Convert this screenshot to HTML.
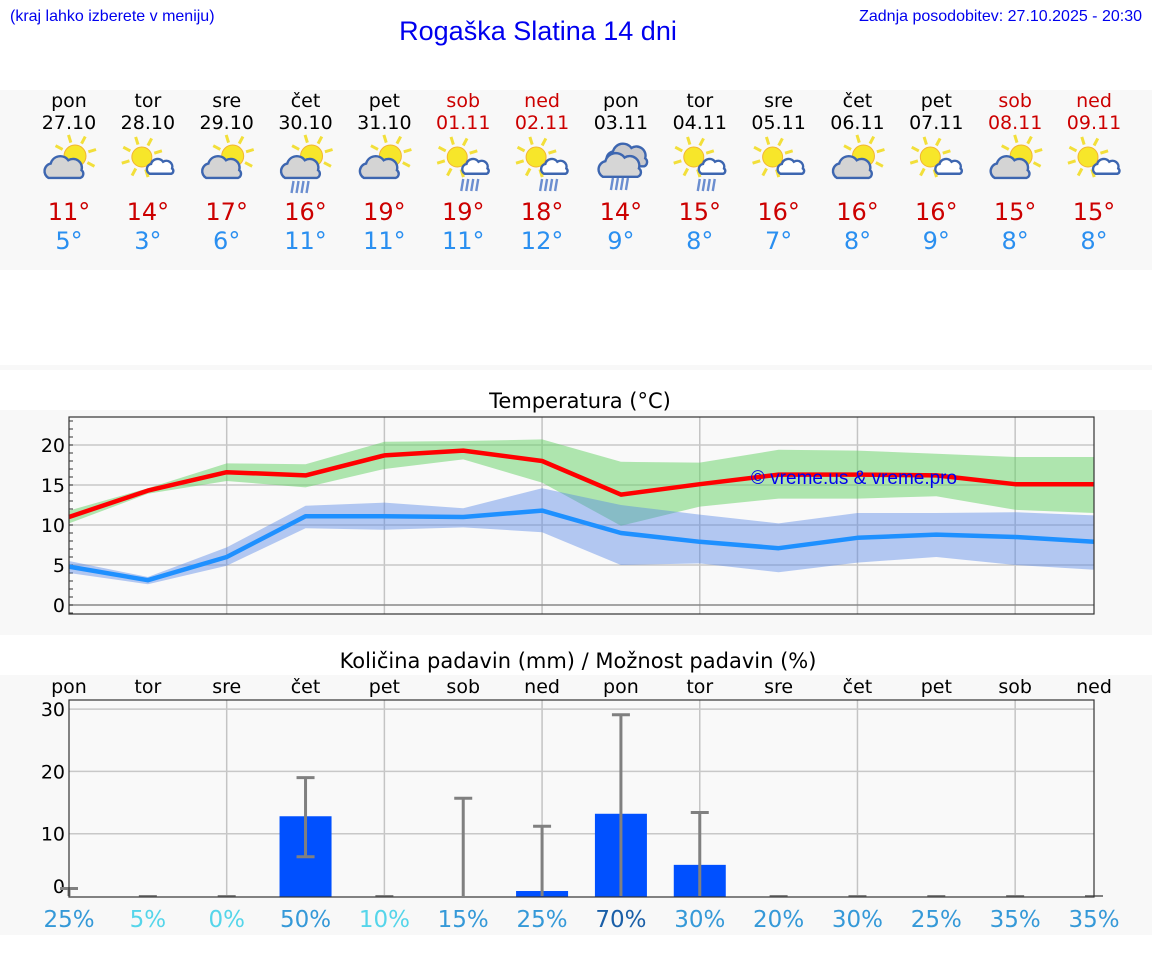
<!DOCTYPE html>
<html><head><meta charset="utf-8">
<style>
html,body{margin:0;padding:0;background:#fff;}
svg{display:block;font-family:"DejaVu Sans","Liberation Sans",sans-serif;}
</style></head>
<body>
<svg id="root" width="1152" height="975" viewBox="0 0 1152 975" xmlns="http://www.w3.org/2000/svg">
<rect x="0" y="90" width="1152" height="180" fill="#f8f8f8"/>
<rect x="0" y="365" width="1152" height="5" fill="#f8f8f8"/>
<rect x="0" y="410" width="1152" height="225" fill="#f8f8f8"/>
<rect x="0" y="675" width="1152" height="260" fill="#f8f8f8"/>
<text x="10" y="21" font-family="Liberation Sans, sans-serif" font-size="16" fill="#0000ee">(kraj lahko izberete v meniju)</text>
<text x="1142" y="21" text-anchor="end" font-family="Liberation Sans, sans-serif" font-size="16" fill="#0000ee">Zadnja posodobitev: 27.10.2025 - 20:30</text>
<text x="538" y="40" text-anchor="middle" font-family="Liberation Sans, sans-serif" font-size="27" fill="#0000ee">Rogaška Slatina 14 dni</text>
<g id="header"></g>
<text x="580" y="408" text-anchor="middle" font-size="21" fill="#000">Temperatura (°C)</text>
<g id="temp"></g>
<text x="578" y="668" text-anchor="middle" font-size="21" fill="#000">Količina padavin (mm) / Možnost padavin (%)</text>
<g id="prec"></g>
</svg>
<script>
const days = ["pon","tor","sre","čet","pet","sob","ned","pon","tor","sre","čet","pet","sob","ned"];
const dates = ["27.10","28.10","29.10","30.10","31.10","01.11","02.11","03.11","04.11","05.11","06.11","07.11","08.11","09.11"];
const weekend = [0,0,0,0,0,1,1,0,0,0,0,0,1,1];
const iconTypes = [0,1,0,3,0,5,5,7,5,1,0,1,0,1];
const maxTemps = [11,14,17,16,19,19,18,14,15,16,16,16,15,15];
const minTemps = [5,3,6,11,11,11,12,9,8,7,8,9,8,8];
const maxLine = [11.0,14.3,16.6,16.2,18.7,19.3,18.0,13.8,15.1,16.3,16.3,16.2,15.1,15.1];
const maxHi = [11.8,14.6,17.7,17.6,20.4,20.5,20.7,17.9,17.8,19.4,19.3,18.9,18.5,18.5];
const maxLo = [10.2,13.9,15.5,14.7,17.0,18.2,15.3,9.9,12.3,13.3,13.3,13.6,11.9,11.5];
const minLine = [4.8,3.1,6.0,11.1,11.1,11.0,11.8,9.0,7.9,7.1,8.4,8.8,8.5,7.9];
const minHi = [5.5,3.5,7.2,12.4,12.8,12.1,14.6,12.5,11.3,10.2,11.5,11.5,11.6,11.2];
const minLo = [4.0,2.6,4.9,9.6,9.4,9.7,9.1,5.0,5.2,4.1,5.3,6.0,5.0,4.4];
const tempTicks = [0,5,10,15,20];
const precip = [0,0,0,12.8,0,0,0.8,13.2,5.0,0,0,0,0,0];
const precipMin = [0,0,0,6.3,0,0,0,0,0,0,0,0,0,0];
const precipMax = [1.2,0,0,19.0,0,15.7,11.2,29.1,13.4,0,0,0,0,0];
const chance = [25,5,0,50,10,15,25,70,30,20,30,25,35,35];
const precipTicks = [0,10,20,30];

const NS="http://www.w3.org/2000/svg";
function mk(parent,tag,attrs,txt){const e=document.createElementNS(NS,tag);for(const k in attrs)e.setAttribute(k,attrs[k]);if(txt!==undefined)e.textContent=txt;parent.appendChild(e);return e;}
const X0=69,X1=1094;
function xd(i){return X0+i*(X1-X0)/13;}

const H=document.getElementById('header');
function sun(g,cx,cy,r){
  for(let a=0;a<8;a++){const an=a*Math.PI/4-0.3;
    mk(g,'line',{x1:cx+Math.cos(an)*(r+3),y1:cy+Math.sin(an)*(r+3),x2:cx+Math.cos(an)*(r+11),y2:cy+Math.sin(an)*(r+11),stroke:'#f2df3a','stroke-width':3});}
  mk(g,'circle',{cx:cx,cy:cy,r:r,fill:'#f7e62a',stroke:'#f2b530','stroke-width':1});
}
function cloud(g,cx,cy,s,fill){
  const p=`M${cx-15*s},${cy+9*s} a${7*s},${7*s} 0 0 1 ${2*s},${-13*s} a${9*s},${9*s} 0 0 1 ${16*s},${-3*s} a${8*s},${8*s} 0 0 1 ${12*s},${9*s} a${4*s},${4*s} 0 0 1 ${-1*s},${7*s} Z`;
  mk(g,'path',{d:p,fill:fill,stroke:'#3d66b0','stroke-width':2.4});
}
function rain(g,cx,cy){for(let k=0;k<4;k++)mk(g,'line',{x1:cx-8+k*5,y1:cy,x2:cx-10+k*5,y2:cy+12,stroke:'#6b8ed0','stroke-width':2.4});}
for(let i=0;i<14;i++){
  const x=xd(i);
  const col=weekend[i]?'#cc0000':'#000';
  const t1=mk(H,'text',{x:x,y:107,'text-anchor':'middle','font-size':19,fill:col},days[i]);
  
  
  const t2=mk(H,'text',{x:x,y:129,'text-anchor':'middle','font-size':19,fill:col},dates[i]);
  
  
  const g=mk(H,'g',{});
  
  
  const t=iconTypes[i];
  if(t===7){cloud(g,x+7,156,1.15,'#c9c9cc');cloud(g,x,166,1.2,'#d6d6d6');rain(g,x,178);}
  else if(t===1||t===5){sun(g,x-6,157,10);cloud(g,x+13,167,0.75,'#fff');if(t===5)rain(g,x+8,179);}
  else {sun(g,x+6,156,11);cloud(g,x-4,168,1.1,'#d4d4d4');if(t===3)rain(g,x-4,181);}
  const hi=mk(H,'text',{x:x,y:220,'text-anchor':'middle','font-size':24,fill:'#cc0000'},maxTemps[i]+'°');
  
  
  const lo=mk(H,'text',{x:x,y:249,'text-anchor':'middle','font-size':24,fill:'#2a8ff0'},minTemps[i]+'°');
  
  
}

const T=document.getElementById('temp');
const TY0=417,TY1=614;
function yt(v){return 605-8*v;}
mk(T,'rect',{x:X0,y:TY0,width:X1-X0,height:TY1-TY0,fill:'#f9f9f9'});
for(let i=2;i<13;i+=2){const l=mk(T,'line',{x1:xd(i),x2:xd(i),y1:TY0,y2:TY1,stroke:'#c4c4c4','stroke-width':1.5});}
tempTicks.forEach(v=>{
  const l=mk(T,'line',{x1:X0,x2:X1,y1:yt(v),y2:yt(v),stroke:v===0?'#888':'#c8c8c8','stroke-width':1.5});
  
  
  const tx=mk(T,'text',{x:X0-4,y:yt(v)+7,'text-anchor':'end','font-size':19,fill:'#000'},String(v));
  
  
});
for(let v=-1;v<=23;v++){mk(T,'line',{x1:X0,x2:X0+4,y1:yt(v),y2:yt(v),stroke:'#333','stroke-width':1});}
function band(hi,lo,fill,name){
  let d='';hi.forEach((v,i)=>d+=(i?'L':'M')+xd(i)+','+yt(v));
  for(let i=lo.length-1;i>=0;i--)d+='L'+xd(i)+','+yt(lo[i]);
  const p=mk(T,'path',{d:d+'Z',fill:fill});
  
  
}
function line(vals,col,name){
  const p=mk(T,'polyline',{points:vals.map((v,i)=>xd(i)+','+yt(v)).join(' '),fill:'none',stroke:col,'stroke-width':4.5,'stroke-linejoin':'round'});
  
  
}
band(maxHi,maxLo,'rgba(100,210,100,0.5)','max-temp-range');
band(minHi,minLo,'rgba(80,130,230,0.42)','min-temp-range');
line(minLine,'#1e90ff','min-temp-line');
line(maxLine,'#ff0000','max-temp-line');
mk(T,'rect',{x:X0,y:TY0,width:X1-X0,height:TY1-TY0,fill:'none',stroke:'#333','stroke-width':1.2});
const wm=mk(T,'text',{x:854,y:484,'text-anchor':'middle','font-family':'Liberation Sans, sans-serif','font-size':19,fill:'#0000ee'},'© vreme.us & vreme.pro');



const P=document.getElementById('prec');
const PY0=700,PY1=897;
function yp(v){return 896-6.23*v;}
mk(P,'rect',{x:X0,y:PY0,width:X1-X0,height:PY1-PY0,fill:'#f9f9f9'});
for(let i=2;i<13;i+=2){const l=mk(P,'line',{x1:xd(i),x2:xd(i),y1:PY0,y2:PY1,stroke:'#c4c4c4','stroke-width':1.5});}
precipTicks.forEach(v=>{
  if(v>0){const l=mk(P,'line',{x1:X0,x2:X1,y1:yp(v),y2:yp(v),stroke:'#c8c8c8','stroke-width':1.5});}
  const tx=mk(P,'text',{x:X0-4,y:(v===0?893:yp(v)+7),'text-anchor':'end','font-size':19,fill:'#000'},String(v));
  
  
});
for(let i=0;i<14;i++){
  const x=xd(i);
  const dl=mk(P,'text',{x:x,y:693,'text-anchor':'middle','font-size':19,fill:'#000'},days[i]);
  
  
  if(precip[i]>0){
    const b=mk(P,'rect',{x:x-26,y:yp(precip[i]),width:52,height:yp(0)-yp(precip[i])+1,fill:'#0050ff'});
    
    
  }
  const eg=mk(P,'g',{stroke:'#808080','stroke-width':3});
  
  
  const top=yp(precipMax[i]),bot=yp(precipMin[i]);
  if(precipMax[i]>0){
    mk(eg,'line',{x1:x,x2:x,y1:top,y2:bot});
    mk(eg,'line',{x1:x-9,x2:x+9,y1:top,y2:top});
    if(precipMin[i]>0)mk(eg,'line',{x1:x-9,x2:x+9,y1:bot,y2:bot});
  } else mk(eg,'line',{x1:x-9,x2:x+9,y1:896,y2:896,'stroke-width':2});
  const colr=chance[i]>=70?'#1a5fa8':(chance[i]<=10?'#55d5ea':'#3599d8');
  const pc=mk(P,'text',{x:x,y:927,'text-anchor':'middle','font-size':23,fill:colr},chance[i]+'%');
  
  
}
mk(P,'rect',{x:X0,y:PY0,width:X1-X0,height:PY1-PY0,fill:'none',stroke:'#333','stroke-width':1.2});
</script>
</body></html>
